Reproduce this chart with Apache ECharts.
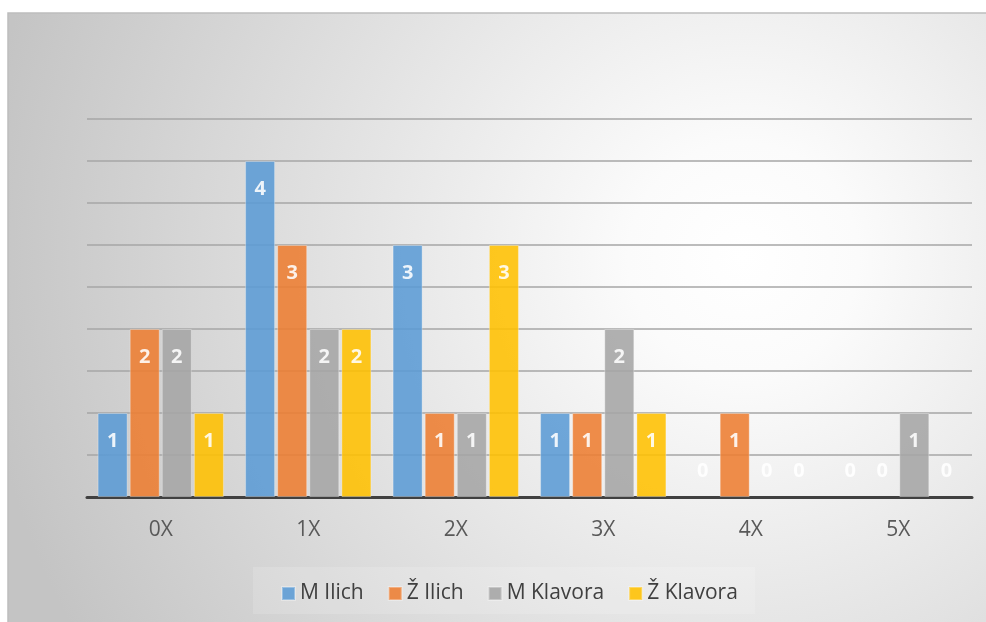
<!DOCTYPE html>
<html><head><meta charset="utf-8">
<script src="https://cdn.jsdelivr.net/npm/echarts@6/dist/echarts.min.js"></script>
<style>html,body{margin:0;padding:0;background:#fff}#c{width:986px;height:622px}</style>
</head><body><div id="c"></div>
<script>
const categories = ['0X','1X','2X','3X','4X','5X'];
const seriesNames = ['M Ilich','Ž Ilich','M Klavora','Ž Klavora'];
const mIlich = [1,4,3,1,0,0];
const zIlich = [2,3,1,1,1,0];
const mKlavora = [2,2,1,2,0,1];
const zKlavora = [1,2,3,1,0,0];
const colors = ['#5B9BD5','#ED7D31','#A5A5A5','#FFC000'];
const allValues = [mIlich, zIlich, mKlavora, zKlavora];

const chart = echarts.init(document.getElementById('c'), null, {renderer:'canvas'});
const font = '"Open Sans", sans-serif';

function buildData(vals){
  return vals.map(v => v === 0
    ? {value:v, itemStyle:{borderWidth:0}, label:{position:'insideBottom', distance:16}}
    : {value:v, label:{position:'insideTop', distance:18}});
}

chart.setOption({
  animation:false,
  backgroundColor:'#ffffff',
  graphic:[{
    type:'rect', z:-10, silent:true,
    shape:{x:8,y:13,width:980,height:612},
    style:{
      fill:{type:'radial', x:0.75, y:0.4, r:1.25,
        colorStops:[{offset:0,color:'#ffffff'},{offset:0.15,color:'#fbfbfb'},{offset:1,color:'#c4c4c4'}]},
      stroke:'#bdbdbd', lineWidth:1.5
    }
  },{
    type:'rect', z:-5, silent:true,
    shape:{x:253,y:567,width:502,height:47},
    style:{fill:'rgba(255,255,255,0.15)'}
  }],
  grid:{left:87, right:14, top:119, bottom:125, containLabel:false},
  legend:{
    data:seriesNames, top:578, left:276,
    itemWidth:13, itemHeight:13, itemGap:24, icon:'rect',
    textStyle:{fontFamily:font, fontSize:21, color:'#404040'}
  },
  xAxis:{
    type:'category', data:categories,
    axisLine:{lineStyle:{color:'#404040', width:3}},
    axisTick:{show:false},
    axisLabel:{fontFamily:font, fontSize:21, color:'#595959', margin:23}
  },
  yAxis:{
    type:'value', min:0, max:4.5, interval:0.5,
    axisLabel:{show:false}, axisLine:{show:false}, axisTick:{show:false},
    splitLine:{lineStyle:{color:'#a6a6a6', width:1.5}}
  },
  series: allValues.map((vals,i)=>({
    name:seriesNames[i], type:'bar', data:buildData(vals),
    barWidth:30, barGap:'7%',
    itemStyle:{color:colors[i], opacity:0.88, borderColor:'rgba(255,255,255,0.35)', borderWidth:1},
    label:{show:true, color:'#ffffff', fontFamily:font, fontWeight:'bold', fontSize:20}
  }))
});
</script></body></html>
